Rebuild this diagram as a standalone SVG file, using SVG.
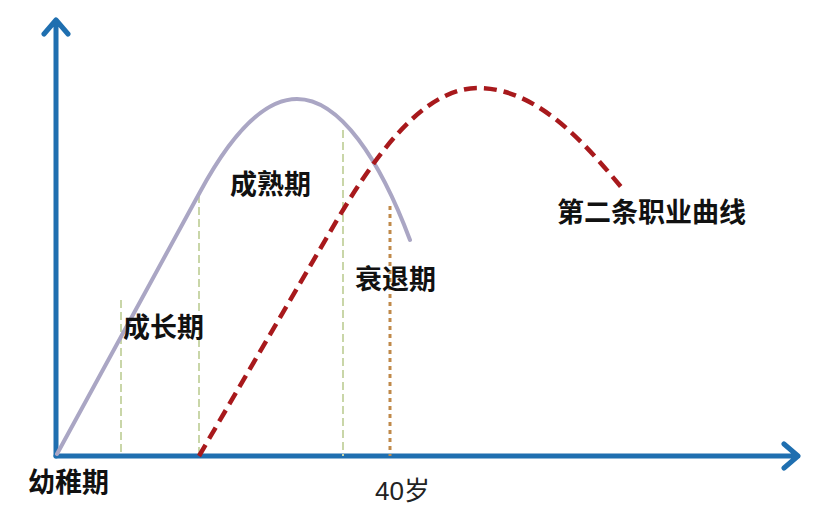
<svg xmlns="http://www.w3.org/2000/svg" width="822" height="510" viewBox="0 0 822 510">
<defs>
<style>
.axis{stroke:#1f6fb0;stroke-width:5;fill:none;stroke-linecap:round;stroke-linejoin:round}
.guide{stroke:#c9d6a8;stroke-width:2;stroke-dasharray:8,4;fill:none}
.dot{stroke:#c08a4a;stroke-width:3;stroke-dasharray:4,4;fill:none}
.lbl{font-family:"Liberation Sans","Noto Sans CJK SC",sans-serif;font-weight:bold;font-size:27px;fill:#111}
</style>
</defs>
<rect width="822" height="510" fill="#fff"/>
<g id="connectors">
<path class="axis" d="M56,456 V20 M44,34 L56,20 L68,34"/>
<path class="axis" d="M56,456 H798 M784,444 L798,456 L784,468"/>
</g>
<g id="guides">
<line class="guide" x1="121" y1="300" x2="121" y2="456"/>
<line class="guide" x1="199" y1="195" x2="199" y2="456"/>
<line class="guide" x1="343" y1="130" x2="343" y2="456"/>
<line class="dot" x1="390" y1="206" x2="390" y2="456"/>
</g>
<g id="curve1">
<path d="M57,454 L200,192 C226,144 260,99 297,99 C340,99 380,160 410,240" fill="none" stroke="#aaa6c4" stroke-width="4" stroke-linecap="round"/>
</g>
<g id="curve2">
<path d="M199,456 L330,232 C370,163 420,88 478,88 C540,88 590,150 622,188" fill="none" stroke="#a8191c" stroke-width="4.5" stroke-dasharray="13,7"/>
</g>
<g id="labels">
<text class="lbl" x="123" y="337">成长期</text>
<text class="lbl" x="230" y="194">成熟期</text>
<text class="lbl" x="355" y="289">衰退期</text>
<text class="lbl" x="557" y="222">第二条职业曲线</text>
<text class="lbl" x="28" y="492">幼稚期</text>
<text x="375" y="500" font-family="'Liberation Sans','Noto Sans CJK SC',sans-serif" font-size="26" fill="#222">40岁</text>
</g>
</svg>
